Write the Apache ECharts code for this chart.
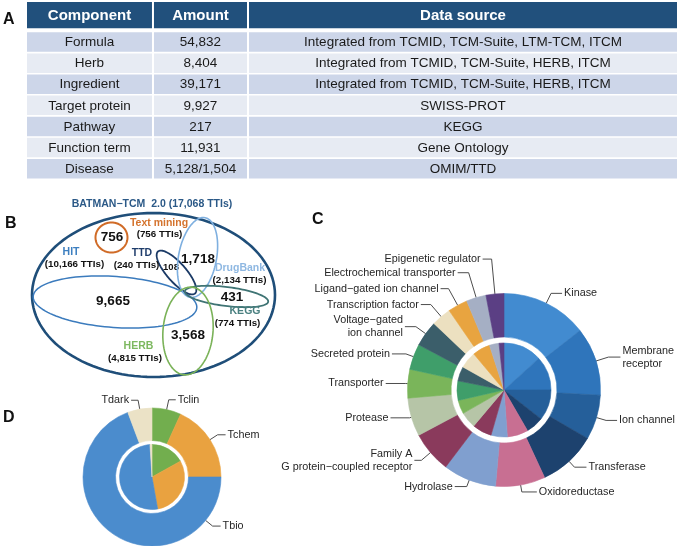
<!DOCTYPE html>
<html>
<head>
<meta charset="utf-8">
<script src="https://cdn.jsdelivr.net/npm/echarts@6/dist/echarts.min.js"></script>
<style>
html,body{margin:0;padding:0;background:#fff;}
#c{width:679px;height:546px;}
</style>
</head>
<body>
<div id="c"></div>
<script>
// ---------------- DATA ----------------
const tableHeader = ['Component', 'Amount', 'Data source'];
const tableComponents = ['Formula', 'Herb', 'Ingredient', 'Target protein', 'Pathway', 'Function term', 'Disease'];
const tableAmounts = ['54,832', '8,404', '39,171', '9,927', '217', '11,931', '5,128/1,504'];
const tableSources = [
  'Integrated from TCMID, TCM-Suite, LTM-TCM, ITCM',
  'Integrated from TCMID, TCM-Suite, HERB, ITCM',
  'Integrated from TCMID, TCM-Suite, HERB, ITCM',
  'SWISS-PROT',
  'KEGG',
  'Gene Ontology',
  'OMIM/TTD'
];

const vennTitle = 'BATMAN\u2212TCM  2.0';
const vennTotal = 17068;
const vennSets = ['Text mining', 'HIT', 'TTD', 'DrugBank', 'KEGG', 'HERB'];
const vennSetTTIs = [756, 10166, 240, 2134, 774, 4815];
const vennRegionValues = [756, 9665, 108, 1718, 431, 3568];

const targetClasses = ['Kinase', 'Membrane receptor', 'Ion channel', 'Transferase', 'Oxidoreductase', 'Hydrolase',
  'Family A G protein\u2212coupled receptor', 'Protease', 'Transporter', 'Secreted protein',
  'Voltage\u2212gated ion channel', 'Transcription factor', 'Ligand\u2212gated ion channel',
  'Electrochemical transporter', 'Epigenetic regulator'];
const classOuter = [14.4, 11.4, 7.5, 9.7, 8.3, 8.9, 6.9, 6.4, 4.8, 4.3, 4.3, 3.3, 3.3, 3.3, 3.0];
const classInner = [13.3, 11.7, 10.6, 6.1, 7.2, 5.6, 6.7, 5.6, 4.7, 6.7, 5.0, 5.8, 6.1, 3.3, 1.7];

const devLevels = ['Tclin', 'Tchem', 'Tbio', 'Tdark'];
const devOuter = [6.8, 18.2, 69.3, 5.7];
const devInner = [16.9, 30.3, 51.8, 1.0];

// ---------------- LAYOUT / STYLE ----------------
const FONT = '"Liberation Sans", Arial, sans-serif';
const headerColor = '#21507c';
const rowColors = ['#cdd6e9', '#e7ebf3'];
const colEdges = [0, 0.1938, 0.34, 1];
const headerSpan = [-1.436, -0.194];
const rowFill = 0.924;

const classColors = ['#428bd0', '#2f75bb', '#255f9a', '#1d426e', '#c86f92', '#809fcf', '#8a3a5c', '#b6c5a7',
  '#7ab55a', '#3f9e6a', '#3b5e6a', '#ece0c0', '#e8a440', '#a5afc4', '#5b3f84'];
const classLabelText = {
  'Membrane receptor': 'Membrane\nreceptor',
  'Family A G protein\u2212coupled receptor': 'Family A\nG protein\u2212coupled receptor',
  'Voltage\u2212gated ion channel': 'Voltage\u2212gated\nion channel'
};
const classLine = [[11, 11], [13, 12], [10, 11], [8, 12], [7, 15], [7, 12], [12, 7], [2, 19], [2, 20], [8, 14],
  [12, 11], [16, 10], [19, 8], [26, 11], [35, 9]];
const devColors = ['#72ae4e', '#e9a240', '#4b8ccd', '#ebe2c6'];
const devLine = [[10, 7], [9, 8], [9, 8], [9, 7]];
const cCenter = [504, 390], cR = 96.5;
const dCenter = [152, 477], dR = 69;
const tbioLabelAngle = 129;

// Venn geometry (pixel space of the full-canvas grid)
const vennShapes = [
  { cx: 153.5, cy: 295, rx: 121.5, ry: 82, rot: 0, color: '#1f4e79', w: 2.6 },
  { cx: 111.5, cy: 237.5, rx: 16, ry: 15, rot: 0, color: '#d06b27', w: 2 },
  { cx: 115, cy: 302, rx: 82, ry: 25.5, rot: 4, color: '#3b7bbd', w: 1.5 },
  { cx: 176.5, cy: 272.5, rx: 28, ry: 9.5, rot: 48.6, color: '#1b3a66', w: 1.8 },
  { cx: 197.5, cy: 257.5, rx: 19, ry: 40.5, rot: 10.7, color: '#7fb0e0', w: 1.6 },
  { cx: 226.5, cy: 296.5, rx: 42, ry: 9.5, rot: 7, color: '#3f7474', w: 1.8 },
  { cx: 188, cy: 331, rx: 25, ry: 44, rot: 5, color: '#7ab258', w: 1.6 }
];
const vennTitlePos = [152, 204.5];
const vennTitleColor = '#2b5987';
const vennNamePos = [[159, 223], [71, 252.5], [142, 253], [240, 268], [245, 311], [138.5, 346.5]];
const vennSubPos = [[159.5, 234.5], [74.5, 264.5], [136.5, 265], [239.5, 280.5], [237.5, 323.5], [135, 358.5]];
const vennNameColors = ['#d4732d', '#3d7fc0', '#1f3d6b', '#8fb8e2', '#4a8080', '#7db860'];
const vennRegionPos = [[112, 237.5], [113, 301], [171, 267.5], [198, 259], [232, 297], [188, 335]];
const vennRegionSize = [13.5, 13.5, 9.5, 13.5, 13.5, 13.5];

const fmt = n => n.toLocaleString('en-US');

// ---------------- TABLE (custom series) ----------------
const tableCols = [tableComponents, tableAmounts, tableSources];
const tableCells = [];
for (let c = 0; c < 3; c++) {
  tableCells.push([c, -1]);
  for (let r = 0; r < tableComponents.length; r++) tableCells.push([c, r]);
}
function renderTableCell(params, api) {
  const cell = tableCells[params.dataIndex];
  const c = cell[0], r = cell[1];
  const x0 = api.coord([colEdges[c], 0])[0] + (c > 0 ? 1 : 0);
  const x1 = api.coord([colEdges[c + 1], 0])[0] - (c < 2 ? 1 : 0);
  let y0, y1, fill, text, font, color;
  if (r < 0) {
    y0 = api.coord([0, headerSpan[0]])[1];
    y1 = api.coord([0, headerSpan[1]])[1];
    fill = headerColor; text = tableHeader[c]; font = 'bold 15px ' + FONT; color = '#ffffff';
  } else {
    y0 = api.coord([0, r])[1];
    y1 = api.coord([0, r + rowFill])[1];
    fill = rowColors[r % 2]; text = tableCols[c][r]; font = '13.5px ' + FONT; color = '#1a1a1a';
  }
  return {
    type: 'group',
    children: [
      { type: 'rect', shape: { x: x0, y: y0, width: x1 - x0, height: y1 - y0 }, style: { fill: fill } },
      { type: 'text', x: (x0 + x1) / 2, y: (y0 + y1) / 2 + 0.5,
        style: { text: text, font: font, fill: color, align: 'center', verticalAlign: 'middle' } }
    ]
  };
}

// ---------------- VENN (custom series) ----------------
function ellipsePoints(api, s) {
  const pts = [];
  const th = s.rot * Math.PI / 180, ct = Math.cos(th), st = Math.sin(th);
  for (let k = 0; k < 120; k++) {
    const t = k / 120 * Math.PI * 2;
    const lx = s.rx * Math.cos(t), ly = s.ry * Math.sin(t);
    pts.push(api.coord([s.cx + lx * ct - ly * st, s.cy + lx * st + ly * ct]));
  }
  return pts;
}
function txt(api, pos, text, font, color) {
  const p = api.coord(pos);
  return { type: 'text', x: p[0], y: p[1],
    style: { text: text, font: font, fill: color, align: 'center', verticalAlign: 'middle' } };
}
function renderVenn(params, api) {
  const i = params.dataIndex;
  const s = vennShapes[i];
  const children = [{ type: 'polygon', shape: { points: ellipsePoints(api, s) },
    style: { fill: 'none', stroke: s.color, lineWidth: s.w } }];
  if (i === 0) {
    children.push(txt(api, vennTitlePos, vennTitle + ' (' + fmt(vennTotal) + ' TTIs)', 'bold 10.5px ' + FONT, vennTitleColor));
  } else {
    const j = i - 1;
    children.push(txt(api, vennNamePos[j], vennSets[j], 'bold 10.5px ' + FONT, vennNameColors[j]));
    children.push(txt(api, vennSubPos[j], '(' + fmt(vennSetTTIs[j]) + ' TTIs)', 'bold 9.8px ' + FONT, '#111111'));
    children.push(txt(api, vennRegionPos[j], fmt(vennRegionValues[j]), 'bold ' + vennRegionSize[j] + 'px ' + FONT, '#111111'));
  }
  return { type: 'group', children: children };
}

// ---------------- PIES ----------------
const pieLabelBase = { fontFamily: FONT, fontSize: 10.8, lineHeight: 13, color: '#262626' };
const sliceStyle = col => ({ color: col, borderColor: col, borderWidth: 0.6 });

const option = {
  animation: false,
  backgroundColor: '#ffffff',
  graphic: [
    { type: 'text', x: 3, y: 19.5, style: { text: 'A', font: 'bold 16px ' + FONT, fill: '#111', verticalAlign: 'middle' } },
    { type: 'text', x: 5, y: 223.5, style: { text: 'B', font: 'bold 16px ' + FONT, fill: '#111', verticalAlign: 'middle' } },
    { type: 'text', x: 312, y: 220, style: { text: 'C', font: 'bold 16px ' + FONT, fill: '#111', verticalAlign: 'middle' } },
    { type: 'text', x: 3, y: 417.5, style: { text: 'D', font: 'bold 16px ' + FONT, fill: '#111', verticalAlign: 'middle' } }
  ],
  grid: [
    { left: 27, top: 0.65, width: 650, height: 179.35 },
    { left: 0, top: 0, width: 679, height: 546 }
  ],
  xAxis: [
    { gridIndex: 0, type: 'value', min: 0, max: 1, show: false },
    { gridIndex: 1, type: 'value', min: 0, max: 679, show: false }
  ],
  yAxis: [
    { gridIndex: 0, type: 'value', min: -1.5, max: 7, inverse: true, show: false },
    { gridIndex: 1, type: 'value', min: 0, max: 546, inverse: true, show: false }
  ],
  series: [
    { type: 'custom', name: 'Table', xAxisIndex: 0, yAxisIndex: 0, silent: true, clip: false,
      renderItem: renderTableCell, data: tableCells.map(() => [0, 0]) },
    { type: 'custom', name: 'Venn', xAxisIndex: 1, yAxisIndex: 1, silent: true, clip: false,
      renderItem: renderVenn, data: vennShapes.map(() => [0, 0]) },
    { type: 'pie', name: 'Target class inner', center: cCenter, radius: [0, 47], startAngle: 90, silent: true,
      label: { show: false }, labelLine: { show: false }, emphasis: { disabled: true },
      data: targetClasses.map((n, i) => ({ name: n, value: classInner[i], itemStyle: sliceStyle(classColors[i]) })) },
    { type: 'pie', name: 'Target class outer', center: cCenter, radius: [53, cR], startAngle: 90, silent: true,
      avoidLabelOverlap: false, emphasis: { disabled: true },
      label: Object.assign({ show: true, position: 'outside', alignTo: 'none', distanceToLabelLine: 2,
        formatter: p => classLabelText[p.name] || p.name }, pieLabelBase),
      labelLine: { show: true, lineStyle: { color: '#4d4d4d', width: 1 } },
      data: targetClasses.map((n, i) => ({ name: n, value: classOuter[i], itemStyle: sliceStyle(classColors[i]),
        labelLine: { length: classLine[i][0], length2: classLine[i][1] } })) },
    { type: 'pie', name: 'Development level inner', center: dCenter, radius: [0, 32.5], startAngle: 90, silent: true,
      label: { show: false }, labelLine: { show: false }, emphasis: { disabled: true },
      data: devLevels.map((n, i) => ({ name: n, value: devInner[i], itemStyle: sliceStyle(devColors[i]) })) },
    { type: 'pie', name: 'Development level outer', center: dCenter, radius: [36.5, dR], startAngle: 90, silent: true,
      avoidLabelOverlap: false, emphasis: { disabled: true },
      label: Object.assign({ show: true, position: 'outside', alignTo: 'none', distanceToLabelLine: 2, formatter: '{b}' }, pieLabelBase),
      labelLine: { show: true, lineStyle: { color: '#4d4d4d', width: 1 } },
      labelLayout: function (p) {
        if (p.dataIndex !== 2) return {};
        const a = tbioLabelAngle * Math.PI / 180;
        const dx = Math.sin(a), dy = -Math.cos(a);
        const ex = dCenter[0] + dR * dx, ey = dCenter[1] + dR * dy;
        const mx = ex + devLine[2][0] * dx, my = ey + devLine[2][0] * dy;
        const lx = mx + devLine[2][1];
        return { x: lx + 2, y: my, align: 'left', verticalAlign: 'middle',
          labelLinePoints: [[ex, ey], [mx, my], [lx, my]] };
      },
      data: devLevels.map((n, i) => ({ name: n, value: devOuter[i], itemStyle: sliceStyle(devColors[i]),
        labelLine: { length: devLine[i][0], length2: devLine[i][1] } })) }
  ]
};

const chart = echarts.init(document.getElementById('c'), null, { renderer: 'canvas' });
chart.setOption(option);
</script>
</body>
</html>
